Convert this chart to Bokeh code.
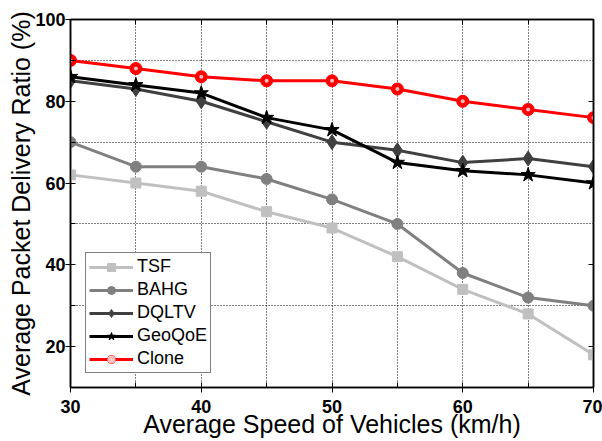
from bokeh.plotting import figure
from bokeh.models import (LinearAxis, SingleIntervalTicker, FixedTicker, Range1d, Legend,
                          CustomJSTickFormatter)
from bokeh.embed import file_html
from bokeh.resources import INLINE

speed = [30, 35, 40, 45, 50, 55, 60, 65, 70]
tsf = [62, 60, 58, 53, 49, 42, 34, 28, 18]
bahg = [70, 64, 64, 61, 56, 50, 38, 32, 30]
dqltv = [85, 83, 80, 75, 70, 68, 65, 66, 64]
geoqoe = [86, 84, 82, 76, 73, 65, 63, 62, 60]
clone = [90, 88, 86, 85, 85, 83, 80, 78, 76]
x_title = "Average Speed of Vehicles (km/h)"
y_title = "Average Packet Delivery Ratio (%)"

FONT = "Liberation Sans"

p = figure(width=602, height=441, output_backend="svg", toolbar_location=None,
           x_range=Range1d(30, 70), y_range=Range1d(10, 100),
           min_border_left=70, min_border_right=9, min_border_top=19, min_border_bottom=54,
           x_axis_label=x_title, y_axis_label=y_title)
p.outline_line_color = "black"
p.outline_line_width = 1.5

for ax, iv in ((p.xaxis[0], 10), (p.yaxis[0], 20)):
    ax.ticker = SingleIntervalTicker(interval=iv, num_minor_ticks=2)
    ax.axis_line_color = "black"
    ax.axis_line_width = 1.5
    ax.major_tick_line_color = "black"
    ax.minor_tick_line_color = "black"
    ax.major_tick_out = 5
    ax.major_tick_in = 0
    ax.minor_tick_in = 5
    ax.minor_tick_out = 0
    ax.major_label_text_font = FONT
    ax.major_label_text_font_style = "bold"
    ax.major_label_text_font_size = "18px"
    ax.major_label_text_color = "black"
    ax.axis_label_text_font = FONT
    ax.axis_label_text_font_style = "normal"
    ax.axis_label_text_font_size = "25px"
    ax.axis_label_text_color = "black"
p.xaxis.major_label_standoff = 7
p.xaxis.axis_label_standoff = -6
p.yaxis.major_label_standoff = 0
p.yaxis.axis_label_standoff = -3

blank = CustomJSTickFormatter(code="return ''")
ra = LinearAxis(ticker=SingleIntervalTicker(interval=20, num_minor_ticks=2),
                formatter=blank, major_tick_in=5, major_tick_out=0,
                minor_tick_in=0, minor_tick_out=0, axis_line_color="black", axis_line_width=1.5,
                major_label_standoff=0)
ta = LinearAxis(ticker=SingleIntervalTicker(interval=10, num_minor_ticks=2),
                formatter=blank, major_tick_in=5, major_tick_out=0,
                minor_tick_in=5, minor_tick_out=0, axis_line_color="black", axis_line_width=1.5,
                major_label_standoff=0)
p.add_layout(ra, "right")
p.add_layout(ta, "above")

p.xgrid.ticker = FixedTicker(ticks=[35, 40, 45, 50, 55, 60, 65])
p.ygrid.ticker = FixedTicker(ticks=[30, 50, 70, 90])
for g in (p.xgrid[0], p.ygrid[0]):
    g.grid_line_color = "black"
    g.grid_line_dash = "1 2"
    g.grid_line_width = 1

lw = 3
items = []
r1 = p.line(speed, tsf, line_color="#c0c0c0", line_width=lw)
m1 = p.scatter(speed, tsf, marker="square", size=10, fill_color="#c0c0c0", line_color="#c0c0c0")
items.append(("TSF", [r1, m1]))
r2 = p.line(speed, bahg, line_color="#808080", line_width=lw)
m2 = p.scatter(speed, bahg, marker="circle", size=11, fill_color="#808080", line_color="#808080")
items.append(("BAHG", [r2, m2]))
r3 = p.line(speed, dqltv, line_color="#404040", line_width=lw)
m3 = p.scatter(speed, dqltv, marker="diamond", size=15, fill_color="#404040", line_color="#404040")
items.append(("DQLTV", [r3, m3]))
r4 = p.line(speed, geoqoe, line_color="black", line_width=lw)
m4 = p.scatter(speed, geoqoe, marker="star", size=15, fill_color="black", line_color="black")
items.append(("GeoQoE", [r4, m4]))
r5 = p.line(speed, clone, line_color="#ff0000", line_width=lw)
m5 = p.scatter(speed, clone, marker="circle", size=12, fill_color="#ff0000", line_color="#ff0000")
m5b = p.scatter(speed, clone, marker="circle", size=4, fill_color="#ffc0c0", line_color=None)
items.append(("Clone", [r5, m5, m5b]))

legend = Legend(items=items, location=(15, 14))
legend.border_line_color = "black"
legend.border_line_width = 1
legend.label_text_font = FONT
legend.label_text_font_size = "18px"
legend.label_text_color = "black"
legend.glyph_width = 44
legend.glyph_height = 20
legend.spacing = 2
legend.padding = 3
legend.margin = 0
legend.label_standoff = 4
legend.label_height = 20
legend.background_fill_alpha = 1
p.add_layout(legend, "center")

open("out.html", "w").write(file_html(p, INLINE))
